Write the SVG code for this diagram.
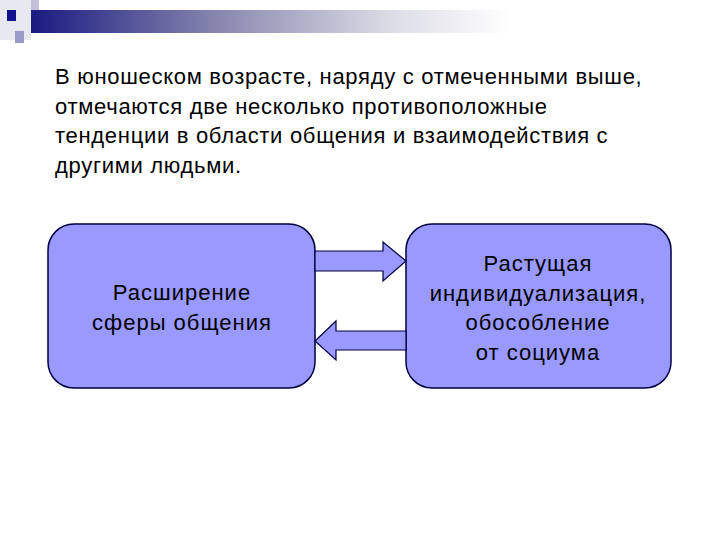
<svg xmlns="http://www.w3.org/2000/svg" width="720" height="540" viewBox="0 0 720 540">
<defs>
<linearGradient id="bar" x1="0" x2="1" y1="0" y2="0">
<stop offset="0" stop-color="#1a1a80"/>
<stop offset="0.4" stop-color="#8a8ab0"/>
<stop offset="0.75" stop-color="#dcdce6"/>
<stop offset="1" stop-color="#ffffff"/>
</linearGradient>
<style>
.box{fill:#9999ff;stroke:#000040;stroke-width:1.5}
.arr{fill:#9999ff;stroke:#000040;stroke-width:1.2}
.t{font-family:"Liberation Sans",Arial,sans-serif;font-size:22px;letter-spacing:0.7px;fill:#000}
.c{text-anchor:middle;letter-spacing:1px}
</style>
</defs>
<rect width="720" height="540" fill="#fff"/>
<g id="decor">
<rect x="0" y="0" width="31" height="40" fill="#e8e8f0"/>
<rect x="31" y="0" width="8" height="21" fill="#c0c0d8"/>
<rect x="31" y="10" width="480" height="23" fill="url(#bar)"/>
<rect x="7" y="10" width="9" height="11" fill="#10108a"/>
<rect x="15" y="31" width="9" height="12" fill="#9a9ac8"/>
</g>
<text class="t" x="55" y="84">В юношеском возрасте, наряду с отмеченными выше,</text>
<text class="t" x="55" y="114">отмечаются две несколько противоположные</text>
<text class="t" x="55" y="143">тенденции в области общения и взаимодействия с</text>
<text class="t" x="55" y="173">другими людьми.</text>
<g id="left">
<rect class="box" x="48" y="224" width="267" height="164" rx="26"/>
<text class="t c" x="182" y="300">Расширение</text>
<text class="t c" x="182" y="330">сферы общения</text>
</g>
<g id="right">
<rect class="box" x="406" y="224" width="265" height="164" rx="26"/>
<text class="t c" x="538" y="271">Растущая</text>
<text class="t c" x="538" y="301">индивидуализация,</text>
<text class="t c" x="538" y="330">обособление</text>
<text class="t c" x="538" y="360">от социума</text>
</g>
<g id="connectors">
<polygon class="arr" points="315,251 383,251 383,242 406,261 383,281 383,271 315,271"/>
<polygon class="arr" points="406,331 336,331 336,321 315,341 336,360 336,350 406,350"/>
</g>
</svg>
